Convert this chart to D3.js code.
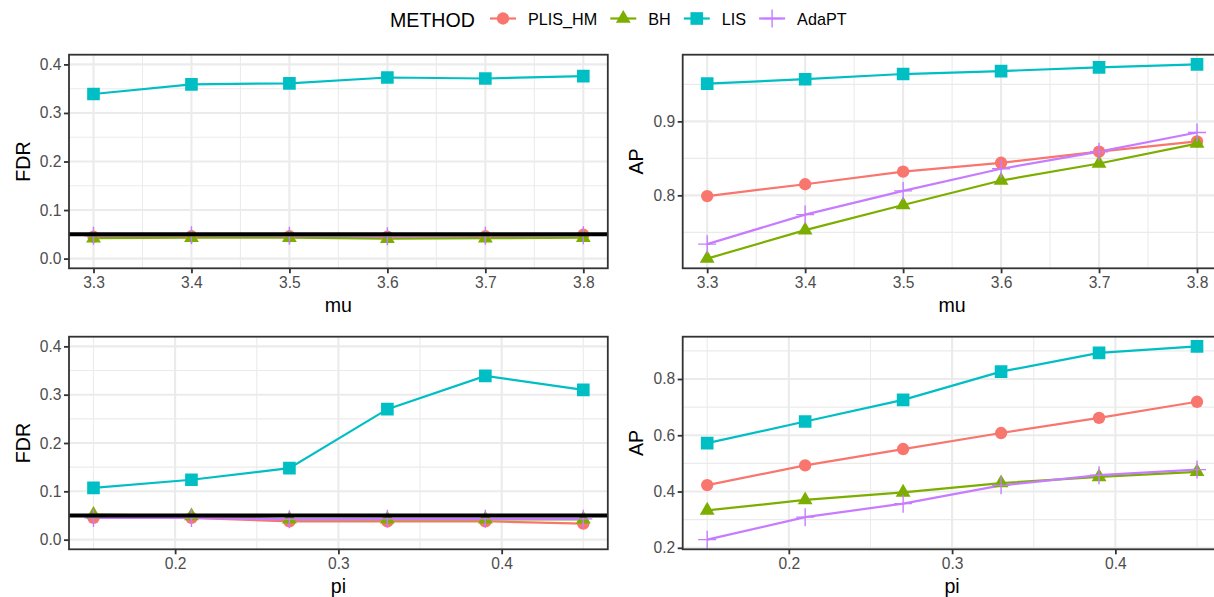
<!DOCTYPE html>
<html>
<head>
<meta charset="utf-8">
<script src="https://cdn.jsdelivr.net/npm/d3@7"></script>
<style>
	body { margin: 0; background: #ffffff; }
	text { font-family: "Liberation Sans", Arial, Helvetica, sans-serif; }
</style>
</head>
<body>
<svg id="chart" width="1214" height="597"></svg>
<script>
/**
 * Data.
 */
var methods = ["PLIS_HM", "BH", "LIS", "AdaPT"];
var methodColors = ["#F8766D", "#7CAE00", "#00BFC4", "#C77CFF"];
var methodShapes = ["circle", "triangle", "square", "plus"];

var muValues = [3.3, 3.4, 3.5, 3.6, 3.7, 3.8];
var piValues = [0.15, 0.21, 0.27, 0.33, 0.39, 0.45];

// one row per method, same order as `methods`
var fdrByMu = [
	[0.045, 0.046, 0.046, 0.045, 0.046, 0.049],
	[0.042, 0.043, 0.043, 0.041, 0.042, 0.043],
	[0.339, 0.359, 0.361, 0.373, 0.371, 0.376],
	[0.047, 0.048, 0.047, 0.046, 0.047, 0.048]
];
var apByMu = [
	[0.799, 0.815, 0.832, 0.844, 0.859, 0.873],
	[0.7145, 0.753, 0.787, 0.820, 0.843, 0.870],
	[0.951, 0.957, 0.964, 0.968, 0.973, 0.977],
	[0.734, 0.774, 0.806, 0.836, 0.859, 0.885]
];
var fdrByPi = [
	[0.045, 0.045, 0.038, 0.038, 0.038, 0.033],
	[0.052, 0.049, 0.042, 0.042, 0.042, 0.042],
	[0.107, 0.124, 0.148, 0.270, 0.339, 0.310],
	[0.045, 0.045, 0.042, 0.043, 0.043, 0.043]
];
var apByPi = [
	[0.423, 0.493, 0.551, 0.608, 0.662, 0.719],
	[0.333, 0.370, 0.397, 0.430, 0.452, 0.470],
	[0.572, 0.649, 0.726, 0.826, 0.893, 0.916],
	[0.229, 0.309, 0.357, 0.422, 0.458, 0.478]
];

var fdrLevel = 0.05;
var fdrLimits = [0, 0.4];

// tick labels
var muTicks = [3.3, 3.4, 3.5, 3.6, 3.7, 3.8];
var piTicks = [0.2, 0.3, 0.4];
var fdrTicks = [0, 0.1, 0.2, 0.3, 0.4];
var apMuTicks = [0.8, 0.9];
var apPiTicks = [0.2, 0.4, 0.6, 0.8];

{
	var svg = d3.select("#chart");
	var fmt = d3.format(".1f");

	var panels = [
		{ x0: 69, x1: 607.8, y0: 54.7, y1: 268.3, xs: muValues, ys: fdrByMu, xTicks: muTicks, yTicks: fdrTicks, xTitle: "mu", yTitle: "FDR", fdr: true },
		{ x0: 682.7, x1: 1221.5, y0: 54.7, y1: 268.3, xs: muValues, ys: apByMu, xTicks: muTicks, yTicks: apMuTicks, xTitle: "mu", yTitle: "AP", fdr: false },
		{ x0: 69, x1: 607.8, y0: 336.7, y1: 549.3, xs: piValues, ys: fdrByPi, xTicks: piTicks, yTicks: fdrTicks, xTitle: "pi", yTitle: "FDR", fdr: true },
		{ x0: 682.7, x1: 1221.5, y0: 336.7, y1: 549.3, xs: piValues, ys: apByPi, xTicks: piTicks, yTicks: apPiTicks, xTitle: "pi", yTitle: "AP", fdr: false }
	];

	// ggplot style 5% expansion
	function expand(ext) {
		var d = (ext[1] - ext[0]) * 0.05;
		return [ext[0] - d, ext[1] + d];
	}

	// minor breaks halfway between majors, inside the domain
	function minorBreaks(ticks, domain) {
		var step = ticks[1] - ticks[0];
		var out = [];
		for (var i = -1; i < ticks.length; i++) {
			var v = ticks[0] + (i + 0.5) * step;
			if (v >= domain[0] && v <= domain[1]) out.push(v);
		}
		return out;
	}

	function shapePath(shape) {
		if (shape == "circle") return d3.symbol(d3.symbolCircle, 120)();
		if (shape == "square") return d3.symbol(d3.symbolSquare, 160)();
		if (shape == "triangle") return d3.symbol(d3.symbolTriangle, 95)();
		return "M-9,0H9M0,-9V9";
	}

	function drawMarker(g, shape, color, x, y) {
		var p = g.append("path")
			.attr("d", shapePath(shape))
			.attr("transform", "translate(" + x + "," + y + ")");
		if (shape == "plus") {
			p.attr("fill", "none").attr("stroke", color).attr("stroke-width", 1.4);
		} else {
			p.attr("fill", color);
		}
	}

	panels.forEach(function (p, pi) {
		var allY = d3.merge(p.ys);
		var x = d3.scaleLinear()
			.domain(expand(d3.extent(p.xs)))
			.range([p.x0, p.x1]);
		var y = d3.scaleLinear()
			.domain(expand(p.fdr ? fdrLimits : d3.extent(allY)))
			.range([p.y1, p.y0]);

		var g = svg.append("g");

		g.append("clipPath")
			.attr("id", "clip" + pi)
			.append("rect")
			.attr("x", p.x0)
			.attr("y", p.y0)
			.attr("width", p.x1 - p.x0)
			.attr("height", p.y1 - p.y0);

		var body = g.append("g").attr("clip-path", "url(#clip" + pi + ")");

		// grid
		var xMinor = minorBreaks(p.xTicks, x.domain());
		var yMinor = minorBreaks(p.yTicks, y.domain());
		body.selectAll(".xminor").data(xMinor).enter().append("line")
			.attr("x1", x).attr("x2", x)
			.attr("y1", p.y0).attr("y2", p.y1)
			.attr("stroke", "#EBEBEB").attr("stroke-width", 1.1);
		body.selectAll(".yminor").data(yMinor).enter().append("line")
			.attr("x1", p.x0).attr("x2", p.x1)
			.attr("y1", y).attr("y2", y)
			.attr("stroke", "#EBEBEB").attr("stroke-width", 1.1);
		body.selectAll(".xmajor").data(p.xTicks).enter().append("line")
			.attr("x1", x).attr("x2", x)
			.attr("y1", p.y0).attr("y2", p.y1)
			.attr("stroke", "#EBEBEB").attr("stroke-width", 2.1);
		body.selectAll(".ymajor").data(p.yTicks).enter().append("line")
			.attr("x1", p.x0).attr("x2", p.x1)
			.attr("y1", y).attr("y2", y)
			.attr("stroke", "#EBEBEB").attr("stroke-width", 2.1);

		// lines
		var line = d3.line()
			.x(function (d, i) { return x(p.xs[i]); })
			.y(function (d) { return y(d); });
		p.ys.forEach(function (vals, m) {
			body.append("path")
				.datum(vals)
				.attr("d", line)
				.attr("fill", "none")
				.attr("stroke", methodColors[m])
				.attr("stroke-width", 2.2);
		});

		// points
		p.ys.forEach(function (vals, m) {
			vals.forEach(function (v, i) {
				drawMarker(body, methodShapes[m], methodColors[m], x(p.xs[i]), y(v));
			});
		});

		if (p.fdr) {
			body.append("line")
				.attr("x1", p.x0).attr("x2", p.x1)
				.attr("y1", y(fdrLevel)).attr("y2", y(fdrLevel))
				.attr("stroke", "#000000")
				.attr("stroke-width", 4);
		}

		// border
		g.append("rect")
			.attr("x", p.x0)
			.attr("y", p.y0)
			.attr("width", p.x1 - p.x0)
			.attr("height", p.y1 - p.y0)
			.attr("fill", "none")
			.attr("stroke", "#333333")
			.attr("stroke-width", 1.8);

		// axes
		var xAxis = g.append("g")
			.attr("transform", "translate(0," + p.y1 + ")")
			.call(d3.axisBottom(x).tickValues(p.xTicks).tickFormat(fmt).tickSize(5).tickPadding(3.5));
		var yAxis = g.append("g")
			.attr("transform", "translate(" + p.x0 + ",0)")
			.call(d3.axisLeft(y).tickValues(p.yTicks).tickFormat(fmt).tickSize(5).tickPadding(2.5));
		[xAxis, yAxis].forEach(function (a) {
			a.select(".domain").remove();
			a.selectAll(".tick line").attr("stroke", "#333333").attr("stroke-width", 1.8);
			a.selectAll(".tick text")
				.attr("fill", "#4D4D4D")
				.style("font-size", "15.6px")
				.style("font-family", "'Liberation Sans', Arial, sans-serif");
		});

		// axis titles
		g.append("text")
			.attr("x", (p.x0 + Math.min(p.x1, 1214 + (p.x1 - 1214))) / 2)
			.attr("y", p.y1 + 43.3)
			.attr("text-anchor", "middle")
			.style("font-size", "19.6px")
			.text(p.xTitle);
		g.append("text")
			.attr("transform", "translate(" + (p.x0 - 39.5) + "," + ((p.y0 + p.y1) / 2) + ") rotate(-90)")
			.attr("text-anchor", "middle")
			.style("font-size", "19.6px")
			.text(p.yTitle);
	});

	// legend
	var legend = svg.append("g");
	legend.append("text")
		.attr("x", 390)
		.attr("y", 26.5)
		.style("font-size", "19.6px")
		.text("METHOD");

	var keyX = 490;
	methods.forEach(function (name, m) {
		var k = legend.append("g");
		k.append("line")
			.attr("x1", keyX).attr("x2", keyX + 26)
			.attr("y1", 18.5).attr("y2", 18.5)
			.attr("stroke", methodColors[m])
			.attr("stroke-width", 2.2);
		drawMarker(k, methodShapes[m], methodColors[m], keyX + 13, 18.5);
		var t = k.append("text")
			.attr("x", keyX + 38)
			.attr("y", 25)
			.style("font-size", "16.2px")
			.text(name);
		keyX = keyX + 38 + t.node().getComputedTextLength() + 13;
	});
}
</script>
</body>
</html>
